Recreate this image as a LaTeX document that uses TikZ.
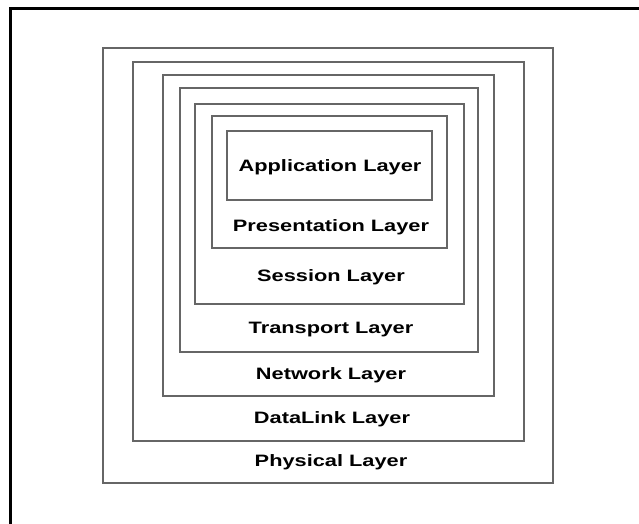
\documentclass[tikz,border=0pt]{standalone}
\usepackage{fontspec}
\setmainfont{Liberation Sans}
\usepackage{graphicx}
\begin{document}
\begin{tikzpicture}[x=1pt,y=-1pt,
  layerbox/.style={draw=black!60, line width=1.6pt},
  frame/.style={draw=black, line width=3pt},
  lbl/.style={inner sep=0pt, font=\fontsize{16.5}{18}\selectfont\bfseries}]
\useasboundingbox (0,0) rectangle (639,524);
\clip (0,0) rectangle (639,524);
\draw[frame] (10,560) -- (10,8.5) -- (680,8.5);
% layer boxes
\draw[layerbox] (103,48) rectangle (553,483);
\draw[layerbox] (133,62) rectangle (524,441);
\draw[layerbox] (163,75) rectangle (494,396);
\draw[layerbox] (180,88) rectangle (478,352);
\draw[layerbox] (195,104) rectangle (464,304);
\draw[layerbox] (212,116) rectangle (447,248);
\draw[layerbox] (227,131) rectangle (432,200);
% labels
\newcommand{\wide}[1]{\scalebox{1.32}[1]{#1}}
\node[lbl] (app)  at (330,167) {\wide{Application Layer}};
\node[lbl] (pres) at (331,227) {\wide{Presentation Layer}};
\node[lbl] (sess) at (331,277) {\wide{Session Layer}};
\node[lbl] (trans) at (331,330) {\wide{Transport Layer}};
\node[lbl] (net) at (331,375) {\wide{Network Layer}};
\node[lbl] (dl) at (332,419) {\wide{DataLink Layer}};
\node[lbl] (phy) at (331,462) {\wide{Physical Layer}};
\end{tikzpicture}
\end{document}
